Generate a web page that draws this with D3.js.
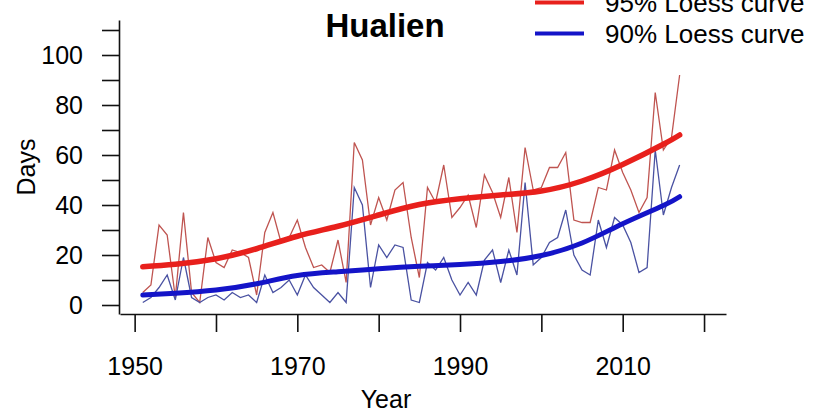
<!DOCTYPE html>
<html>
<head>
<meta charset="utf-8">
<script src="https://cdn.jsdelivr.net/npm/d3@7"></script>
<style>
  body { margin: 0; background: #fff; }
  #corpo { width: 817px; height: 413px; }
  text { font-family: "Liberation Sans", Arial, sans-serif; fill: #000; }
</style>
</head>
<body>
<div id="corpo"></div>
<script>
// data (days per year, Hualien)
var years = d3.range(1951, 2018);

var days95 = [5, 8, 32, 28, 3, 37, 5, 1, 27, 17,
              15, 22, 21, 19, 4, 29, 37, 25, 27, 34,
              23, 15, 16, 13, 26, 9, 65, 58, 32, 43,
              34, 46, 49, 27, 11, 47, 41, 56, 35, 39,
              44, 31, 52, 45, 35, 51, 29, 63, 46, 47,
              55, 55, 61, 34, 33, 33, 47, 46, 62, 53,
              46, 37, 43, 85, 62, 67, 92];

var days90 = [1, 3, 7, 12, 2, 19, 3, 1, 3, 4,
              2, 5, 3, 4, 1, 12, 5, 7, 10, 4,
              12, 7, 4, 1, 5, 1, 47, 40, 7, 24,
              19, 24, 23, 2, 1, 17, 14, 19, 10, 4,
              9, 4, 18, 22, 9, 22, 12, 49, 16, 19,
              25, 27, 38, 20, 14, 12, 34, 23, 35, 32,
              25, 13, 15, 62, 36, 47, 56];

// loess curves, read at a few years
var loessYears = [1951, 1955, 1960, 1965, 1970, 1975, 1980, 1985, 1990, 1995, 2000, 2005, 2010, 2015, 2017];
var loess95 = [15.3, 16.3, 18.5, 22.5, 27.5, 31.5, 36, 40.2, 42.5, 44, 45.6, 49.6, 56.2, 64.3, 68];
var loess90 = [4, 4.7, 6, 8.5, 11.8, 13.3, 14.5, 15.5, 16.2, 17.4, 19.8, 24.8, 32.5, 39.8, 43.3];

var xTicks = d3.range(1950, 2021, 10);
var yTicks = d3.range(0, 111, 10);
var legendLabels = ["95% Loess curve", "90% Loess curve"];

var width = 817, height = 413;

var svg = d3.select("#corpo").append("svg")
    .attr("width", width)
    .attr("height", height);

var x = d3.scaleLinear().domain([1948.2, 2022.7]).range([120, 726]);
var y = d3.scaleLinear().domain([-3.6, 114]).range([314, 20]);

// axes
var yAxis = d3.axisLeft(y)
    .tickValues(yTicks)
    .tickSize(17)
    .tickSizeOuter(0)
    .tickPadding(19)
    .tickFormat(function(d){ return d % 20 == 0 ? d : ""; });

var gy = svg.append("g")
    .attr("transform", "translate(119,0)")
    .call(yAxis);

var xAxis = d3.axisBottom(x)
    .tickValues(xTicks)
    .tickSize(18)
    .tickSizeOuter(0)
    .tickPadding(25)
    .tickFormat(function(d){ return (d - 1950) % 20 == 0 ? d : ""; });

var gx = svg.append("g")
    .attr("transform", "translate(0,314)")
    .call(xAxis);

[gx, gy].forEach(function(g){
    g.selectAll("path, line").attr("stroke", "#111").attr("stroke-width", 1.6);
    g.selectAll("text")
        .style("font-family", "'Liberation Sans', Arial, sans-serif")
        .style("font-size", "25px")
        .attr("fill", "#111");
});

// thin yearly lines
var line = d3.line()
    .x(function(d){ return x(d[0]); })
    .y(function(d){ return y(d[1]); });

var smooth = d3.line()
    .x(function(d){ return x(d[0]); })
    .y(function(d){ return y(d[1]); })
    .curve(d3.curveNatural);

svg.append("path")
    .attr("d", line(years.map(function(yr, i){ return [yr, days95[i]]; })))
    .attr("fill", "none")
    .attr("stroke", "#bf5450")
    .attr("stroke-width", 1.3);

svg.append("path")
    .attr("d", line(years.map(function(yr, i){ return [yr, days90[i]]; })))
    .attr("fill", "none")
    .attr("stroke", "#4a52a2")
    .attr("stroke-width", 1.3);

// loess curves
svg.append("path")
    .attr("d", smooth(loessYears.map(function(yr, i){ return [yr, loess95[i]]; })))
    .attr("fill", "none")
    .attr("stroke", "#e8201c")
    .attr("stroke-width", 5.5)
    .attr("stroke-linecap", "round");

svg.append("path")
    .attr("d", smooth(loessYears.map(function(yr, i){ return [yr, loess90[i]]; })))
    .attr("fill", "none")
    .attr("stroke", "#1414c8")
    .attr("stroke-width", 5)
    .attr("stroke-linecap", "round");

// titles
svg.append("text")
    .attr("x", 385).attr("y", 37)
    .attr("text-anchor", "middle")
    .style("font-size", "33px")
    .style("font-weight", "bold")
    .text("Hualien");

svg.append("text")
    .attr("x", 386).attr("y", 408)
    .attr("text-anchor", "middle")
    .style("font-size", "25px")
    .text("Year");

svg.append("text")
    .attr("transform", "translate(35,167) rotate(-90)")
    .attr("text-anchor", "middle")
    .style("font-size", "25px")
    .text("Days");

// legend (the top entry is cut by the top edge, as in the original)
var legColors = ["#e8201c", "#1414c8"];
var leg = svg.selectAll(".leg")
    .data(legendLabels)
    .enter().append("g")
    .attr("class", "leg")
    .attr("transform", function(d, i){ return "translate(0," + (2.5 + i * 31) + ")"; });

leg.append("line")
    .attr("x1", 535).attr("x2", 584)
    .attr("y1", 0).attr("y2", 0)
    .attr("stroke", function(d, i){ return legColors[i]; })
    .attr("stroke-width", 4);

leg.append("text")
    .attr("x", 605).attr("y", 9.5)
    .style("font-size", "26px")
    .text(function(d){ return d; });
</script>
</body>
</html>
